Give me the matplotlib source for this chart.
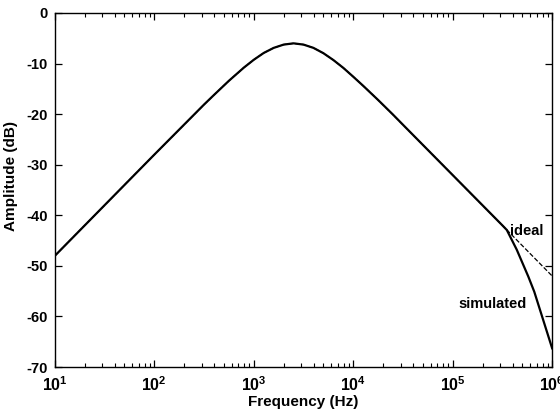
import matplotlib
matplotlib.use("Agg")
import matplotlib.pyplot as plt
import numpy as np

plt.rcParams['font.family'] = ['Liberation Sans', 'DejaVu Sans']
plt.rcParams['font.weight'] = 'bold'
plt.rcParams['mathtext.fontset'] = 'custom'
plt.rcParams['mathtext.rm'] = 'Liberation Sans:bold'
plt.rcParams['mathtext.bf'] = 'Liberation Sans:bold'

# log10(frequency) and amplitude (dB)
logf_ideal = [1.0, 1.5, 2.0, 2.5, 2.6, 2.75, 2.9, 3.0, 3.1, 3.2, 3.3, 3.4,
              3.5, 3.6, 3.7, 3.8, 3.9, 4.0, 4.1, 4.25, 4.4, 4.5, 5.0, 5.5,
              5.6, 5.8, 6.0]
amp_ideal = [-48.0, -38.0, -28.0, -18.1, -16.2, -13.4, -10.8, -9.25, -7.9,
             -6.9, -6.25, -6.0, -6.25, -6.9, -7.95, -9.3, -10.85, -12.6,
             -14.4, -17.2, -20.1, -22.1, -32.05, -42.0, -44.0, -48.0, -52.0]

logf_sim = [1.0, 1.5, 2.0, 2.5, 2.6, 2.75, 2.9, 3.0, 3.1, 3.2, 3.3, 3.4,
            3.5, 3.6, 3.7, 3.8, 3.9, 4.0, 4.1, 4.25, 4.4, 4.5, 5.0, 5.5,
            5.544, 5.644, 5.76, 5.82, 5.91, 6.0]
amp_sim = [-48.0, -38.0, -28.0, -18.1, -16.2, -13.4, -10.8, -9.25, -7.9,
           -6.9, -6.25, -6.0, -6.25, -6.9, -7.95, -9.3, -10.85, -12.6,
           -14.4, -17.2, -20.1, -22.1, -32.05, -42.0, -42.9, -46.8, -52.1,
           -55.1, -60.7, -66.3]

xticks = [1e1, 1e2, 1e3, 1e4, 1e5, 1e6]
xticklabels = [r'$\mathbf{10^{%d}}$' % k for k in range(1, 7)]
yticks = [0, -10, -20, -30, -40, -50, -60, -70]

f_ideal = 10 ** np.array(logf_ideal)
f_sim = 10 ** np.array(logf_sim)

fig = plt.figure(figsize=(5.6, 4.19), dpi=100)
ax = fig.add_axes([0.098, 0.124, 0.888, 0.845])

ax.semilogx(f_ideal, amp_ideal, 'k--', lw=0.9)
ax.semilogx(f_sim, amp_sim, 'k-', lw=1.6)

ax.set_xlim(1e1, 1e6)
ax.set_ylim(-70, 0)
ax.set_xticks(xticks)
ax.set_xticklabels(xticklabels, fontsize=11.5)
ax.set_yticks(yticks)
ax.set_yticklabels([str(v) for v in yticks], fontsize=10.5, fontweight='bold')

ax.tick_params(which='both', direction='in', top=True, right=True)
ax.tick_params(which='major', length=5, width=0.9)
ax.tick_params(which='minor', length=3, width=0.8)
ax.tick_params(axis='x', pad=6)
ax.tick_params(axis='y', pad=5)
for s in ax.spines.values():
    s.set_linewidth(1.0)

ax.text(3.8e5, -43.8, 'ideal', fontsize=10.5, fontweight='bold')
ax.text(1.15e5, -58.3, 'simulated', fontsize=10.5, fontweight='bold')

ax.set_xlabel('Frequency (Hz)', fontsize=11, fontweight='bold', labelpad=1)
ax.set_ylabel('Amplitude (dB)', fontsize=11, fontweight='bold')
ax.yaxis.set_label_coords(-0.075, 0.54)

plt.savefig('out.png', dpi=100)
